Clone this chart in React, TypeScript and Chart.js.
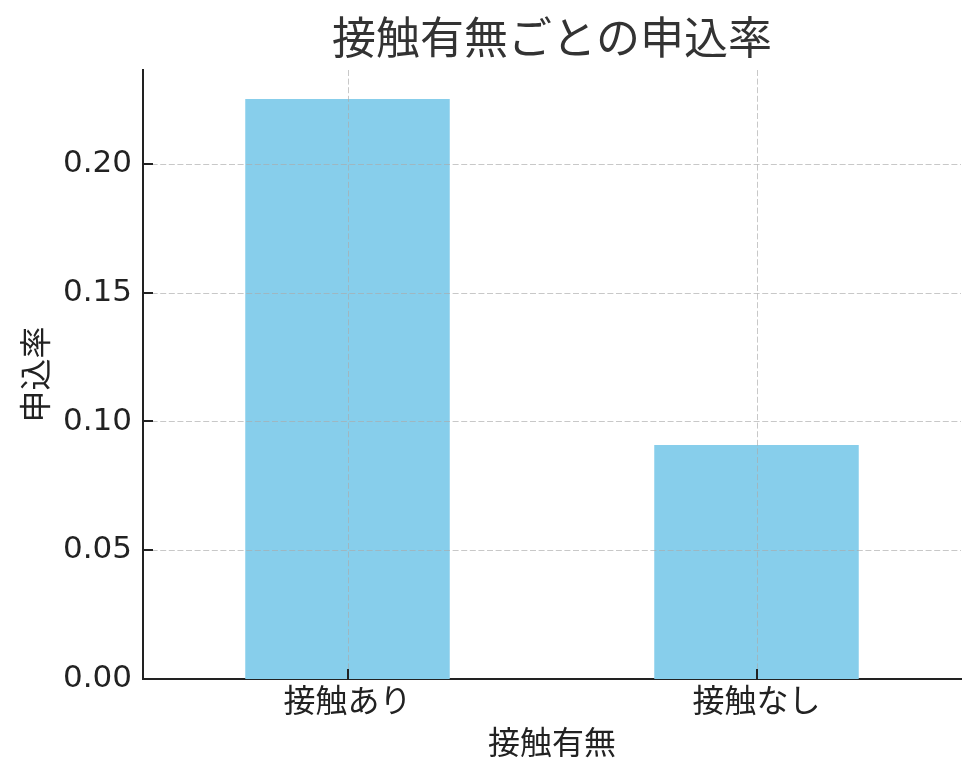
import React, { useEffect, useRef } from 'react';
import { Chart, registerables } from 'chart.js';

Chart.register(...registerables);

const categories = ['接触あり', '接触なし'];
const applicationRates = [0.2252, 0.0909];
const yTickValues = [0, 0.05, 0.1, 0.15, 0.2];
const yMax = 0.2365;

const chartTitle = '接触有無ごとの申込率';
const xAxisTitle = '接触有無';
const yAxisTitle = '申込率';

const FONT = '"Noto Sans CJK JP", "Noto Sans", sans-serif';
const NUM_FONT = '"DejaVu Sans", "Noto Sans CJK JP", sans-serif';

// matplotlib style: dashed grid drawn over the bars, ticks pointing inward,
// title centred over the plot area rather than the whole canvas
const matplotlibLook = {
  id: 'matplotlibLook',
  afterDatasetsDraw(chart: any) {
    const { ctx, chartArea, scales } = chart;
    const x = scales.x;
    const y = scales.y;
    ctx.save();
    ctx.strokeStyle = 'rgba(170, 170, 170, 0.65)';
    ctx.lineWidth = 1;
    ctx.setLineDash([6, 2.6]);
    y.ticks.forEach((t: any) => {
      if (t.value === 0) return;
      const py = Math.round(y.getPixelForValue(t.value)) + 0.5;
      ctx.beginPath();
      ctx.moveTo(chartArea.left, py);
      ctx.lineTo(chartArea.right, py);
      ctx.stroke();
    });
    x.ticks.forEach((_t: any, i: number) => {
      const px = Math.round(x.getPixelForTick(i)) + 0.5;
      ctx.beginPath();
      ctx.moveTo(px, chartArea.top);
      ctx.lineTo(px, chartArea.bottom);
      ctx.stroke();
    });

    ctx.setLineDash([]);
    ctx.strokeStyle = '#222';
    ctx.lineWidth = 2;
    y.ticks.forEach((t: any) => {
      const py = Math.round(y.getPixelForValue(t.value));
      ctx.beginPath();
      ctx.moveTo(chartArea.left, py);
      ctx.lineTo(chartArea.left + 10, py);
      ctx.stroke();
    });
    x.ticks.forEach((_t: any, i: number) => {
      const px = Math.round(x.getPixelForTick(i));
      ctx.beginPath();
      ctx.moveTo(px, chartArea.bottom);
      ctx.lineTo(px, chartArea.bottom - 10);
      ctx.stroke();
    });

    ctx.fillStyle = '#333';
    ctx.font = `44px ${FONT}`;
    ctx.textAlign = 'center';
    ctx.textBaseline = 'middle';
    ctx.fillText(chartTitle, (chartArea.left + chartArea.right) / 2, 37);
    ctx.restore();
  },
};

const App: React.FC = () => {
  const canvasRef = useRef<HTMLCanvasElement>(null);
  const chartInstance = useRef<Chart | null>(null);

  useEffect(() => {
    const ctx = canvasRef.current?.getContext('2d');
    if (!ctx) return;
    chartInstance.current?.destroy();

    chartInstance.current = new Chart(ctx, {
      type: 'bar',
      data: {
        labels: categories,
        datasets: [{
          label: yAxisTitle,
          data: applicationRates,
          backgroundColor: '#87CEEB',
          borderWidth: 0,
          barPercentage: 0.5,
          categoryPercentage: 1.0,
        }],
      },
      options: {
        responsive: false,
        animation: false,
        layout: { padding: { left: 0, right: 19, top: 70, bottom: 0 } },
        plugins: {
          legend: { display: false },
          tooltip: { enabled: false },
          title: { display: false },
        },
        scales: {
          x: {
            type: 'category',
            offset: true,
            grid: { display: false, drawTicks: false },
            border: { display: true, color: '#222', width: 2 },
            ticks: { color: '#222', font: { family: FONT, size: 32 }, padding: 2 },
            title: {
              display: true,
              text: xAxisTitle,
              color: '#222',
              font: { family: FONT, size: 32 },
              padding: { top: 0, bottom: 19 },
            },
            afterFit: (scale: any) => { scale.height = 101; },
          },
          y: {
            min: 0,
            max: yMax,
            grid: { display: false, drawTicks: false },
            border: { display: true, color: '#222', width: 2 },
            afterBuildTicks: (scale: any) => {
              scale.ticks = yTickValues.map(v => ({ value: v }));
            },
            ticks: {
              color: '#222',
              font: { family: NUM_FONT, size: 31 },
              padding: 11,
              callback: (v: any) => Number(v).toFixed(2),
            },
            title: {
              display: true,
              text: yAxisTitle,
              color: '#222',
              font: { family: FONT, size: 32 },
              padding: { top: 16, bottom: 0 },
            },
            afterFit: (scale: any) => { scale.width = 143; },
          },
        },
      } as any,
      plugins: [matplotlibLook],
    });

    return () => {
      chartInstance.current?.destroy();
      chartInstance.current = null;
    };
  }, []);

  return (
    <div style={{ position: 'fixed', left: 0, top: 0, width: 980, height: 780, background: '#fff' }}>
      <canvas ref={canvasRef} width={980} height={780}></canvas>
    </div>
  );
};

export default App;
